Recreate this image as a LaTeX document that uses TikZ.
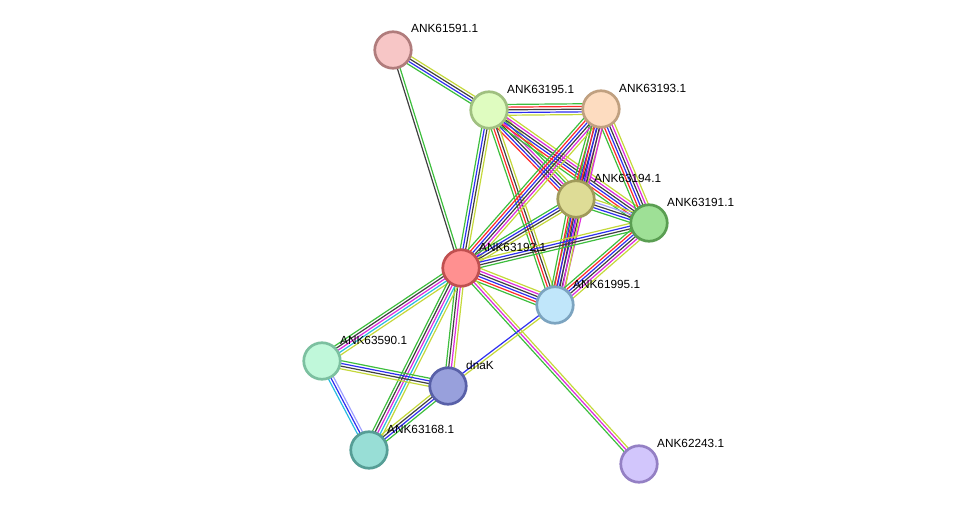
\documentclass[tikz,border=0pt]{standalone}
\usepackage{fontspec}
\setmainfont{Liberation Sans}
\usetikzlibrary{calc,backgrounds}
\definecolor{eg}{HTML}{3DBE3D}
\definecolor{er}{HTML}{FF2A2A}
\definecolor{eb}{HTML}{2E2EF0}
\definecolor{ek}{HTML}{404040}
\definecolor{em}{HTML}{DD2ADD}
\definecolor{ec}{HTML}{2ABCE0}
\definecolor{ey}{HTML}{C4D83A}
\definecolor{el}{HTML}{A0A0FF}
\tikzset{
  prot/.style={circle,minimum size=36.5pt,inner sep=0pt,line width=2.7pt},
  lab/.style={anchor=west,font=\fontsize{11.8}{13}\selectfont,inner sep=0pt},
  eline/.style={line width=1.2pt}
}
\newcommand\sedge[4]{%
  \foreach \c [count=\i] in {#4} {%
    \pgfmathsetmacro\o{(\i-(#3+1)/2)*2.7}%
    \draw[eline,\c] ($(#1)!\o pt!90:(#2)$) -- ($(#2)!\o pt!-90:(#1)$);
  }%
}
\begin{document}
\begin{tikzpicture}[x=1pt,y=-1pt]
\useasboundingbox (0,0) rectangle (975,510);
\node[prot,fill={rgb,255:red,247;green,198;blue,198},draw={rgb,255:red,176;green,124;blue,124}] (n61591) at (393,50) {};
\node[prot,fill={rgb,255:red,223;green,252;blue,192},draw={rgb,255:red,160;green,192;blue,128}] (n63195) at (489,110) {};
\node[prot,fill={rgb,255:red,253;green,220;blue,192},draw={rgb,255:red,192;green,160;blue,128}] (n63193) at (601,109) {};
\node[prot,fill={rgb,255:red,222;green,220;blue,150},draw={rgb,255:red,160;green,154;blue,90}] (n63194) at (576,199) {};
\node[prot,fill={rgb,255:red,158;green,224;blue,150},draw={rgb,255:red,90;green,158;blue,82}] (n63191) at (649,223) {};
\node[prot,fill={rgb,255:red,255;green,144;blue,144},draw={rgb,255:red,192;green,80;blue,80}] (n63192) at (461,268) {};
\node[prot,fill={rgb,255:red,192;green,230;blue,250},draw={rgb,255:red,124;green,164;blue,192}] (n61995) at (555,305) {};
\node[prot,fill={rgb,255:red,192;green,248;blue,218},draw={rgb,255:red,124;green,192;blue,160}] (n63590) at (322,361) {};
\node[prot,fill={rgb,255:red,152;green,160;blue,220},draw={rgb,255:red,88;green,96;blue,168}] (ndnaK) at (448,386) {};
\node[prot,fill={rgb,255:red,152;green,222;blue,214},draw={rgb,255:red,86;green,158;blue,150}] (n63168) at (369,450) {};
\node[prot,fill={rgb,255:red,210;green,198;blue,252},draw={rgb,255:red,148;green,128;blue,196}] (n62243) at (639,464) {};
\begin{pgfonlayer}{background}
\sedge{n61591}{n63195}{4}{eg,eb,ek,ey}
\sedge{n61591}{n63192}{2}{ek,eg}
\sedge{n63195}{n63193}{5}{ey,eb,ek,er,eg}
\sedge{n63195}{n63192}{4}{eg,eb,ek,ey}
\sedge{n63195}{n63194}{6}{er,eb,ek,em,eg,ey}
\sedge{n63195}{n63191}{6}{eg,er,eb,ek,em,ey}
\sedge{n63195}{n61995}{4}{eg,er,ek,ey}
\sedge{n63193}{n63194}{6}{eg,er,eb,ek,em,ey}
\sedge{n63193}{n63191}{6}{eg,er,eb,ek,em,ey}
\sedge{n63193}{n63192}{6}{eg,er,eb,ek,em,ey}
\sedge{n63193}{n61995}{5}{eg,er,eb,ek,em}
\sedge{n63194}{n63191}{5}{eg,eb,ek,el,ey}
\sedge{n63194}{n63192}{4}{eg,eb,ek,ey}
\sedge{n63194}{n61995}{6}{eg,er,eb,ek,em,ey}
\sedge{n63191}{n63192}{4}{ey,eb,ek,eg}
\sedge{n63191}{n61995}{6}{eg,er,eb,ek,em,ey}
\sedge{n63192}{n61995}{6}{eg,er,eb,ek,em,ey}
\sedge{n63192}{n63590}{5}{eg,ek,em,ec,ey}
\sedge{n63192}{ndnaK}{4}{eg,ek,em,ey}
\sedge{n63192}{n63168}{5}{eg,ek,em,ec,ey}
\sedge{n63192}{n62243}{3}{eg,em,ey}
\sedge{n63590}{ndnaK}{4}{ey,ek,eb,eg}
\sedge{n63590}{n63168}{3}{ec,eb,el}
\sedge{ndnaK}{n63168}{4}{ey,ek,eb,eg}
\sedge{ndnaK}{n61995}{2}{ey,eb}
\end{pgfonlayer}
\node[lab] (l61591) at (411,28) {ANK61591.1};
\node[lab] (l63195) at (507,89) {ANK63195.1};
\node[lab] (l63193) at (619,88) {ANK63193.1};
\node[lab] (l63194) at (594,178) {ANK63194.1};
\node[lab] (l63191) at (667,202) {ANK63191.1};
\node[lab] (l63192) at (479,247) {ANK63192.1};
\node[lab] (l61995) at (573,284) {ANK61995.1};
\node[lab] (l63590) at (340,340) {ANK63590.1};
\node[lab] (ldnaK) at (466,365) {dnaK};
\node[lab] (l63168) at (387,429) {ANK63168.1};
\node[lab] (l62243) at (657,443) {ANK62243.1};
\end{tikzpicture}
\end{document}
